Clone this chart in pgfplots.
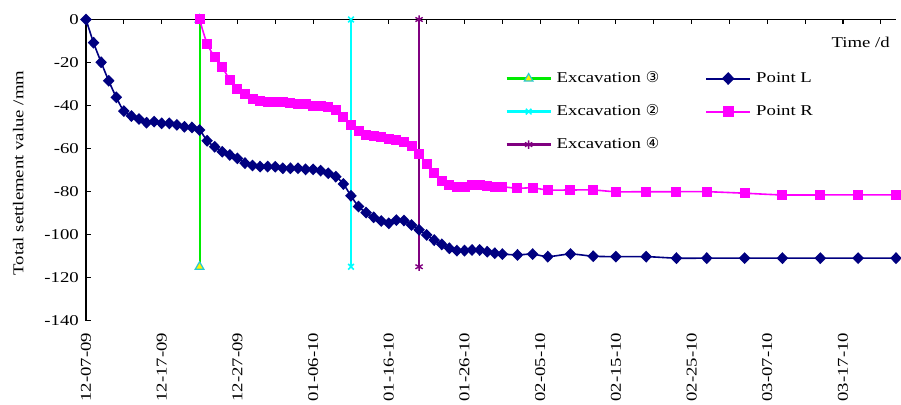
\documentclass[border=0pt]{standalone}
\usepackage{fontspec}
\setmainfont{Liberation Serif}[FakeStretch=1.25]
\newfontfamily\circfont{DejaVu Sans}
\usepackage{pgfplots}
\pgfplotsset{compat=1.18}
\newcommand\mainsz{\fontsize{15bp}{18bp}\selectfont}
\definecolor{cNavy}{RGB}{0,0,128}
\definecolor{cMag}{RGB}{255,0,255}
\definecolor{cGreen}{RGB}{0,235,0}
\definecolor{cCyan}{RGB}{0,255,255}
\definecolor{cPurp}{RGB}{128,0,128}
\definecolor{cTeal}{RGB}{40,200,210}
\begin{document}
\begin{tikzpicture}
\begin{axis}[
  scale only axis, width=810bp, height=301bp,
  at={(0,0)}, anchor=south west,
  xmin=0, xmax=107, ymin=-140, ymax=0,
  clip=false,
  axis line style={draw=none},
  xtick={0,5,...,105},
  xtick pos=right, xticklabel pos=left,
  ytick pos=left, yticklabel pos=left,
  major tick length=0pt,
  major tick style={draw=none},
  xticklabels={12-07-09,,12-17-09,,12-27-09,,01-06-10,,01-16-10,,01-26-10,,02-05-10,,02-15-10,,02-25-10,,03-07-10,,03-17-10,},
  xticklabel style={font=\mainsz, yshift=-12bp, rotate=90, anchor=east, inner sep=0pt},
  ytick={-140,-120,...,0},
  yticklabel style={font=\mainsz, anchor=east, inner sep=0pt, xshift=-7bp},
  ylabel={Total settlement value /mm},
  ylabel style={font=\mainsz, at={(axis description cs:-0.0836,0.49)}, anchor=center},
  legend columns=2,
  legend cell align=left,
  legend image code/.code={\draw[mark repeat=2,mark phase=2,#1] plot coordinates {(0bp,0bp)(22bp,0bp)(44bp,0bp)};},
  legend style={at={(0.514,0.836)}, anchor=north west, draw=none, fill=none,
    font=\mainsz, row sep=18bp, column sep=0pt,
    nodes={inner sep=0pt, text height=11bp, text depth=4bp},
    /tikz/every odd column/.append style={column sep=5bp},
    /tikz/every even column/.append style={column sep=46bp}},
  /pgf/number format/assume math mode=true,
]
% axis lines
\draw[black, line width=1.2bp] (rel axis cs:0,0) -- (rel axis cs:0,1) -- (rel axis cs:1,1);
% tick marks (inside), lengths in axis units: 2.3 y-units and 0.66 x-units are about 5 bp
\pgfplotsinvokeforeach{5,10,15,20,25,30,35,40,45,50,55,60,65,70,75,80,85,90,95,100,105}{
  \draw[black, line width=1.1bp] (axis cs:#1,0) -- (axis cs:#1,-2.3);}
\pgfplotsinvokeforeach{-140,-120,-100,-80,-60,-40,-20}{
  \draw[black, line width=1.1bp] (axis cs:0,#1) -- (axis cs:0.66,#1);}
% excavation lines
\addplot[forget plot, cGreen, line width=2bp, mark=triangle*, mark size=5bp,
  mark options={fill=yellow, draw=cTeal, line width=1.2bp}] coordinates {(15,0) (15,-115)};
\addplot[forget plot, cCyan, line width=2bp, mark=x, mark size=4bp,
  mark options={line width=1.5bp}] coordinates {(35,0) (35,-115)};
\addplot[forget plot, cPurp, line width=2bp, mark=asterisk, mark size=4.2bp,
  mark options={line width=1.4bp}] coordinates {(44,0) (44,-115)};
% Point L
\addplot[forget plot, cNavy, line width=1.6bp, smooth, mark=diamond*, mark size=4.8bp,
  mark options={xscale=1.3, solid}] coordinates {
(0,0) (1,-10.8) (2,-19.9) (3,-28.5) (4,-36.2) (5,-42.6) (6,-44.9) (7,-46.3)
(8,-48) (9,-47.5) (10,-48.3) (11,-48.3) (12,-49) (13,-49.9) (14,-50.2) (15,-51.4)
(16,-56.4) (17,-59.2) (18,-61.5) (19,-63) (20,-64.6) (21,-66.8) (22,-67.9) (23,-68.4)
(24,-68.4) (25,-68.5) (26,-69.2) (27,-69.2) (28,-69.2) (29,-69.7) (30,-69.7) (31,-70.3)
(32,-71.5) (33,-73.1) (34,-76.5) (35,-82) (36,-87) (37,-89.8) (38,-92) (39,-93.7)
(40,-94.8) (41,-93.3) (42,-93.5) (43,-95.6) (44,-97.8) (45,-100.2) (46,-102.6) (47,-104.6)
(48,-106.4) (49,-107.5) (50,-107.5) (51,-107.2) (52,-107.2) (53,-108) (54,-108.7) (55,-109.1)
(57,-109.5) (59,-109.1) (61,-110.3) (64,-109.1) (67,-110.1) (70,-110.3) (74,-110.3) (78,-111)
(82,-111) (87,-111) (92,-111) (97,-111) (102,-111) (107,-111)};
% Point R
\addplot[forget plot, cMag, line width=1.6bp, smooth, mark=square*, mark size=4.2bp,
  mark options={solid}] coordinates {
(15,0) (16,-11.3) (17,-17.4) (18,-22.2) (19,-28.1) (20,-32.4) (21,-34.8) (22,-37)
(23,-37.8) (24,-38.2) (25,-38.5) (26,-38.5) (27,-38.7) (28,-39.5) (29,-39.5) (30,-40.1)
(31,-40.1) (32,-40.9) (33,-42.1) (34,-45.2) (35,-49.1) (36,-51.7) (37,-53.7) (38,-54.2)
(39,-54.8) (40,-55.5) (41,-56) (42,-56.8) (43,-58.8) (44,-62.6) (45,-67) (46,-71.3)
(47,-75) (48,-77) (49,-77.8) (50,-77.8) (51,-77) (52,-77) (53,-77.5) (54,-77.8)
(55,-77.8) (57,-78.5) (59,-78.3) (61,-79.3) (64,-79.3) (67,-79.3) (70,-80.1) (74,-80.1)
(78,-80.1) (82,-80.1) (87,-80.8) (92,-81.6) (97,-81.6) (102,-81.6) (107,-81.6)};
% legend
\addlegendimage{cGreen, line width=2.2bp, mark=triangle*, mark size=5bp, mark options={fill=yellow, draw=cTeal, line width=1.2bp}}
\addlegendentry{Excavation {\circfont ③}}
\addlegendimage{cNavy, line width=2bp, mark=diamond*, mark size=5bp, mark options={xscale=1.3}}
\addlegendentry{Point L}
\addlegendimage{cCyan, line width=2.2bp, mark=x, mark size=4bp, mark options={line width=1.5bp}}
\addlegendentry{Excavation {\circfont ②}}
\addlegendimage{cMag, line width=2bp, mark=square*, mark size=4.5bp}
\addlegendentry{Point R}
\addlegendimage{cPurp, line width=2.2bp, mark=asterisk, mark size=4.2bp, mark options={line width=1.4bp}}
\addlegendentry{Excavation {\circfont ④}}
\node[font=\mainsz, anchor=east, inner sep=0pt] at (axis description cs:0.9926,0.925) {Time /d};
\end{axis}
\pgfresetboundingbox
\path[use as bounding box] (-86bp,-84.5bp) rectangle (815bp,320.5bp);
\end{tikzpicture}
\end{document}
